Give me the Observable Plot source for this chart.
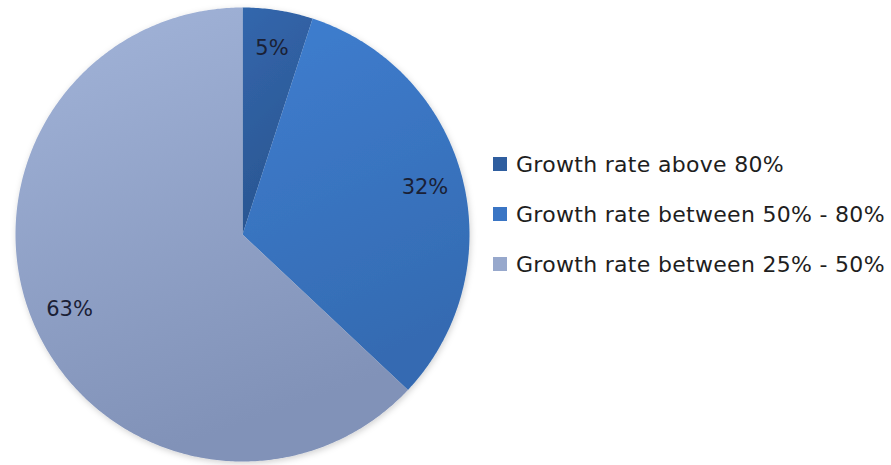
<!DOCTYPE html>
<html>
<head>
<meta charset="utf-8">
<script src="https://cdn.jsdelivr.net/npm/d3@7"></script>
<script src="https://cdn.jsdelivr.net/npm/@observablehq/plot@0.6"></script>
<style>
  html, body { margin: 0; padding: 0; background: #fff; }
  #wrap { position: relative; width: 891px; height: 465px; }
  #legend { position: absolute; left: 493px; top: 139px; font-family: "DejaVu Sans", sans-serif; font-size: 22px; letter-spacing: 0.3px; color: #1e1e1e; }
  .item { display: flex; align-items: center; height: 50px; white-space: nowrap; }
  .sw { width: 14px; height: 14px; margin-right: 9px; flex: none; }
</style>
</head>
<body>
<div id="wrap"></div>
<script>
const categories = ["Growth rate above 80%", "Growth rate between 50% - 80%", "Growth rate between 25% - 50%"];
const values = [5, 32, 63];
const labels = ["5%", "32%", "63%"];
const colors = ["#2f5e9f", "#3a75c4", "#97a8cc"];
const gradTop = ["#3367ad", "#3f7ed0", "#a2b4d9"];
const gradBottom = ["#2a5590", "#346bb2", "#8192b8"];

const pie = d3.pie().sort(null).value(d => d.value)(categories.map((c, i) => ({category: c, value: values[i], label: labels[i], idx: i})));

// polygon outline points of each slice, in unit-circle coordinates derived from the pie angles
const pts = [];
for (const s of pie) {
  pts.push({category: s.data.category, x: 0, y: 0});
  const n = Math.max(2, Math.ceil((s.endAngle - s.startAngle) / 0.01));
  for (let k = 0; k <= n; k++) {
    const a = s.startAngle + (s.endAngle - s.startAngle) * k / n;
    pts.push({category: s.data.category, x: Math.sin(a), y: Math.cos(a)});
  }
}
const labelFrac = 0.83;
const labelData = pie.map(s => {
  const a = (s.startAngle + s.endAngle) / 2;
  return {label: s.data.label, x: labelFrac * Math.sin(a), y: labelFrac * Math.cos(a)};
});

const cx = 242, cy = 234, r = 227;
const chart = Plot.plot({
  width: 891,
  height: 465,
  margin: 0,
  x: {domain: [-1, 1], range: [cx - r, cx + r], axis: null},
  y: {domain: [-1, 1], range: [cy + r, cy - r], axis: null},
  color: {domain: categories, range: categories.map((c, i) => `url(#grad${i})`)},
  style: {fontFamily: "DejaVu Sans, sans-serif", background: "white"},
  marks: [
    Plot.line(pts, {x: "x", y: "y", z: "category", fill: "category", stroke: "none", curve: "linear"}),
    Plot.text(labelData, {x: "x", y: "y", text: "label", fontSize: 21, fill: "#1a2035"})
  ]
});

// gradient definitions for the slice fills
const ns = "http://www.w3.org/2000/svg";
const defs = document.createElementNS(ns, "defs");
categories.forEach((c, i) => {
  const g = document.createElementNS(ns, "linearGradient");
  g.setAttribute("id", `grad${i}`);
  g.setAttribute("x1", "0"); g.setAttribute("y1", "0");
  g.setAttribute("x2", "0.3"); g.setAttribute("y2", "1");
  const s1 = document.createElementNS(ns, "stop");
  s1.setAttribute("offset", "0"); s1.setAttribute("stop-color", gradTop[i]);
  const s2 = document.createElementNS(ns, "stop");
  s2.setAttribute("offset", "1"); s2.setAttribute("stop-color", gradBottom[i]);
  g.appendChild(s1); g.appendChild(s2);
  defs.appendChild(g);
});
const filt = document.createElementNS(ns, "filter");
filt.setAttribute("id", "shadow");
filt.setAttribute("x", "-10%"); filt.setAttribute("y", "-10%");
filt.setAttribute("width", "120%"); filt.setAttribute("height", "120%");
filt.innerHTML = '<feDropShadow dx="1" dy="2" stdDeviation="3" flood-color="#000" flood-opacity="0.18"/>';
defs.appendChild(filt);
chart.insertBefore(defs, chart.firstChild);
const pieGroup = chart.querySelector("g[aria-label='line']");
if (pieGroup) pieGroup.setAttribute("filter", "url(#shadow)");

const wrap = document.getElementById("wrap");
wrap.appendChild(chart);

const legend = document.createElement("div");
legend.id = "legend";
categories.forEach((c, i) => {
  const item = document.createElement("div");
  item.className = "item";
  const sw = document.createElement("span");
  sw.className = "sw";
  sw.style.background = colors[i];
  const t = document.createElement("span");
  t.textContent = c;
  item.appendChild(sw); item.appendChild(t);
  legend.appendChild(item);
});
wrap.appendChild(legend);
</script>
</body>
</html>
